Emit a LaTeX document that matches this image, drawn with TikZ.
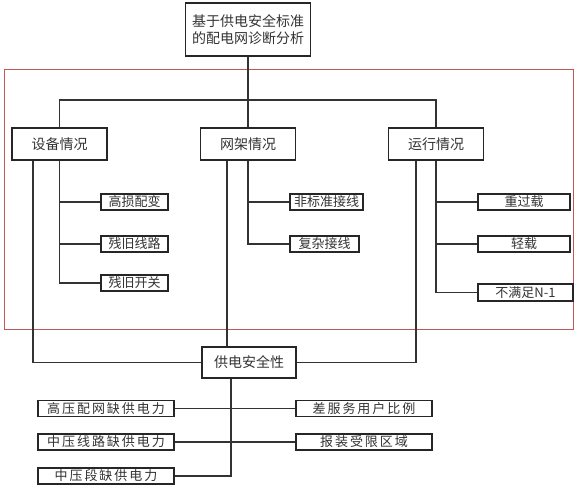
\documentclass[tikz,border=0pt]{standalone}
\usepackage{fontspec}
\usepackage{tikz}
\newfontfamily\cjk{Noto Sans CJK SC}
\newfontfamily\cjkwide[LetterSpace=15]{Noto Sans CJK SC}
\definecolor{framered}{RGB}{192,88,88}

\begin{document}
\begin{tikzpicture}[x=1pt,y=-1pt,
	bigbox/.style={draw=black!85,line width=1.3pt,fill=white,inner sep=0pt,align=center,minimum height=32pt,text=black!80,font={\cjk\fontsize{14}{17}\selectfont}},
	smallbox/.style={draw=black!85,line width=1.3pt,fill=white,inner sep=0pt,minimum height=16pt,text=black!80,font={\cjk\fontsize{13}{14}\selectfont}},
	widebox/.style={smallbox,minimum width=136pt,font={\cjkwide\fontsize{13}{14}\selectfont}},
	link/.style={draw=black!80,line width=1.1pt}]

	\useasboundingbox (0,0) rectangle (580,488);

	% outer frame
	\draw[framered,line width=1pt] (4.5,69) rectangle (573,329);

	\node[bigbox,minimum width=125pt,minimum height=53pt] (top) at (248,29.5) {基于供电安全标准\\的配电网诊断分析};

	\node[bigbox,minimum width=95pt] (sb) at (59.5,144) {设备情况};
	\node[bigbox,minimum width=95pt] (wj) at (248,144) {网架情况};
	\node[bigbox,minimum width=95pt] (yx) at (436,144) {运行情况};

	\node[smallbox,minimum width=67pt] (gs) at (134.5,202) {高损配变};
	\node[smallbox,minimum width=67pt] (cx) at (134.5,244) {残旧线路};
	\node[smallbox,minimum width=67pt] (ck) at (134.5,283) {残旧开关};

	\node[smallbox,minimum width=73pt] (fb) at (326.5,202) {非标准接线};
	\node[smallbox,minimum width=69pt] (fz) at (324.5,244) {复杂接线};

	\node[smallbox,minimum width=92pt] (zg) at (524,202) {重过载};
	\node[smallbox,minimum width=92pt] (qz) at (524,244) {轻载};
	\node[smallbox,minimum width=95pt,minimum height=17pt] (bm) at (525.5,292.5) {不满足N-1};

	\node[bigbox,minimum width=94pt,minimum height=31pt] (gd) at (249,362.5) {供电安全性};

	\node[widebox] (l1) at (106,408.5) {高压配网缺供电力};
	\node[widebox] (l2) at (106,442) {中压线路缺供电力};
	\node[widebox] (l3) at (106,476) {中压段缺供电力};
	\node[widebox] (r1) at (364,408.5) {差服务用户比例};
	\node[widebox] (r2) at (364,442) {报装受限区域};

	\coordinate (bus) at (248,100);

	% top part
	\draw[link] (top) -- (wj);
	\draw[link] (sb.north) |- (bus) -| (yx.north);

	% branches
	\draw[link] (sb.south) |- (ck.west);
	\draw[link] (sb.south |- gs.west) -- (gs.west);
	\draw[link] (sb.south |- cx.west) -- (cx.west);
	\draw[link] (wj.south) |- (fz.west);
	\draw[link] (wj.south |- fb.west) -- (fb.west);
	\draw[link] (yx.south) |- (bm.west);
	\draw[link] (yx.south |- zg.west) -- (zg.west);
	\draw[link] (yx.south |- qz.west) -- (qz.west);

	% to 供电安全性
	\draw[link] ([xshift=-26.5pt]sb.south) |- (gd.west);
	\draw[link] ([xshift=-21pt]wj.south) -- ([xshift=-21pt]wj.south |- gd.north);
	\draw[link] ([xshift=-20pt]yx.south) |- (gd.east);

	% bottom part
	\draw[link] ([xshift=-18pt]gd.south) |- (l3.east);
	\draw[link] (l1.east) -- (r1.west);
	\draw[link] (l2.east) -- (r2.west);

\end{tikzpicture}
\end{document}
